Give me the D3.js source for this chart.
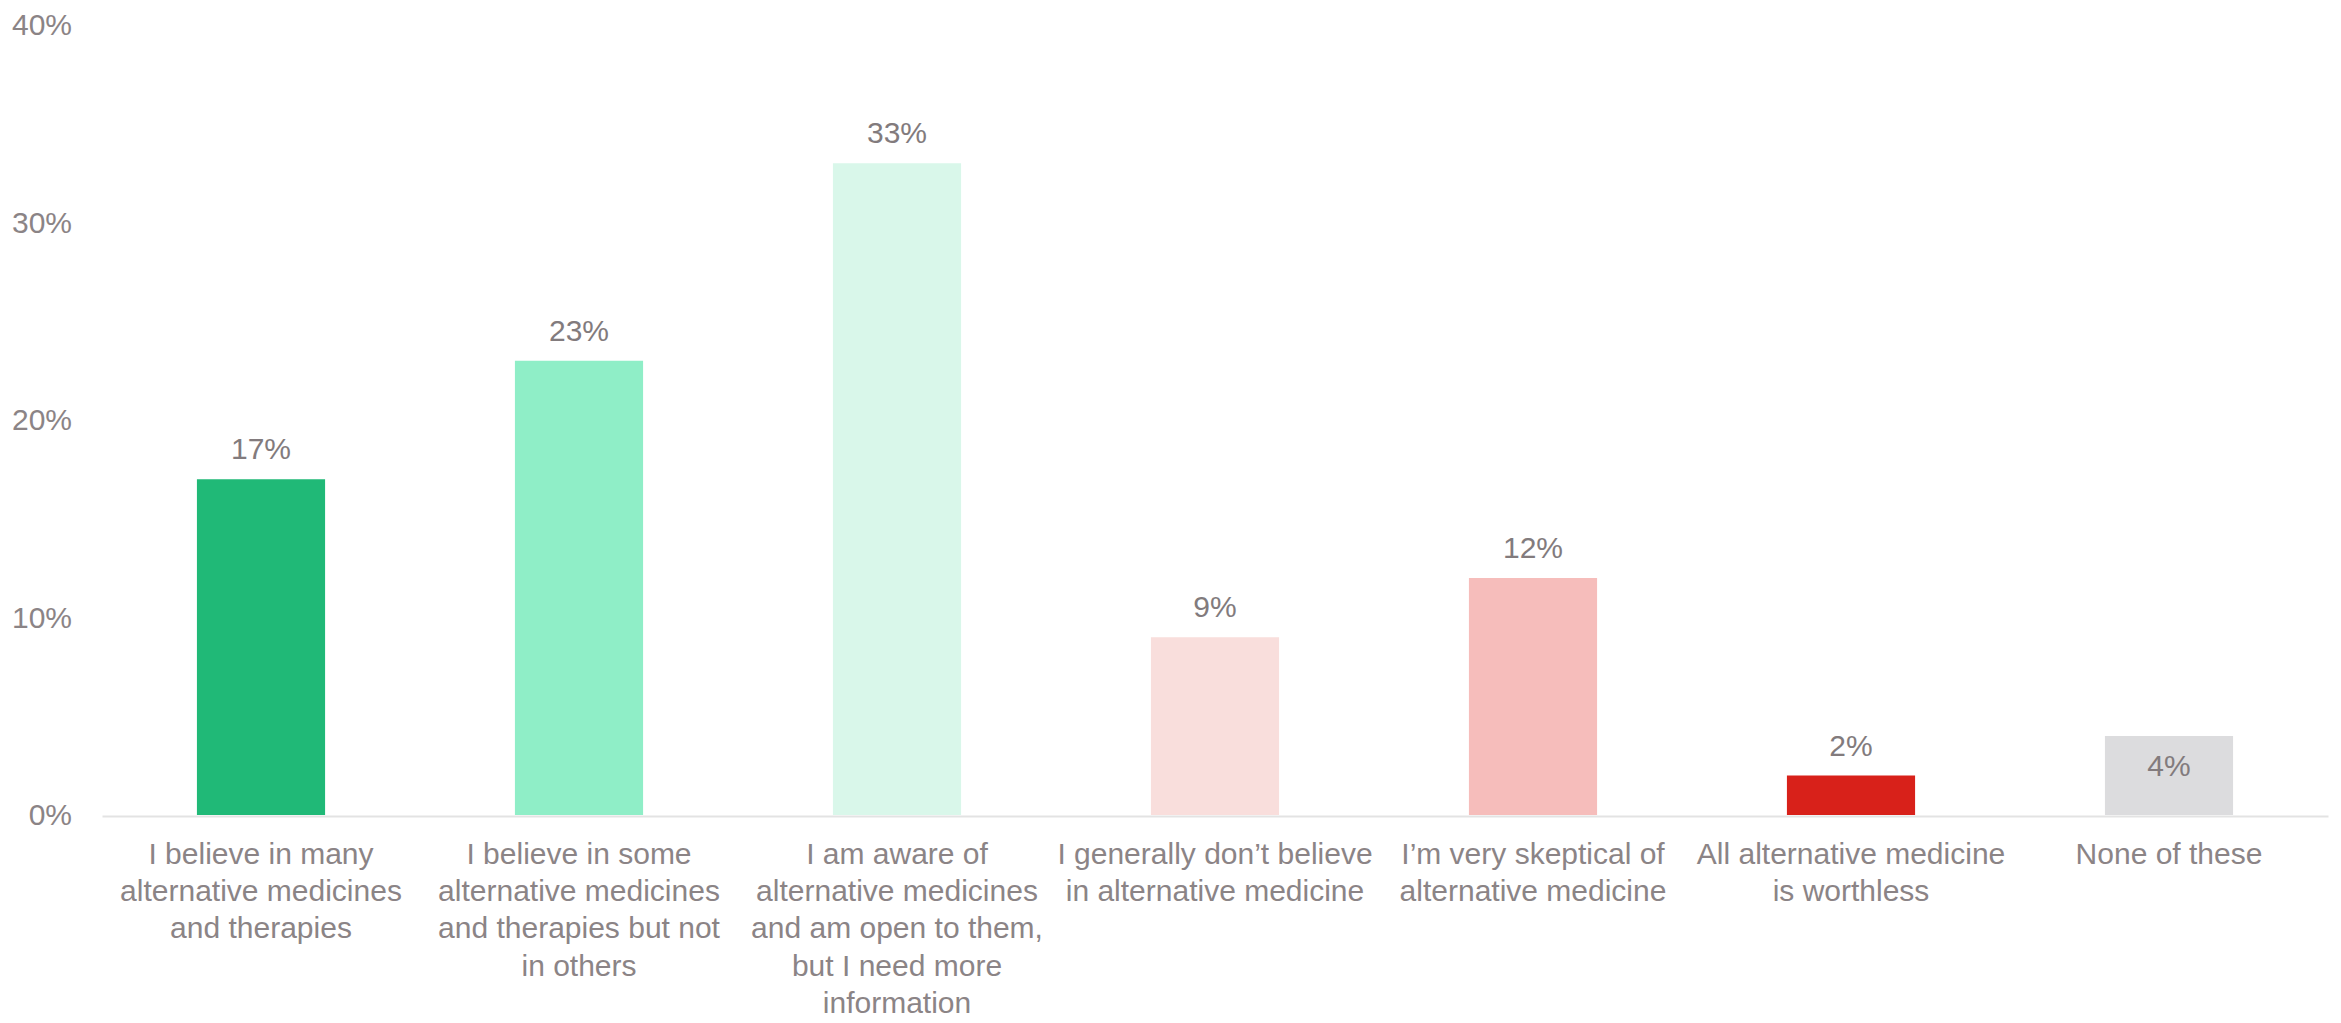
<!DOCTYPE html>
<html lang="en">
<head>
    <meta charset="UTF-8">
    <title>Views on alternative medicine</title>
    <script src="https://d3js.org/d3.v7.min.js"></script>
    <style>
        html, body { margin: 0; padding: 0; background: #ffffff; }
        body { font-family: 'Liberation Sans', Arial, sans-serif; overflow: hidden; }
        #chart { display: block; }
        .axis text { fill: #8b8486; font-size: 30px; }
        .bar-label { fill: #827b7d; font-size: 30px; text-anchor: middle; }
    </style>
</head>
<body>
<svg id="chart" width="2341" height="1023"></svg>

<script>
    // categories (one entry per line of the label under each bar)
    const categories = [
        ["I believe in many", "alternative medicines", "and therapies"],
        ["I believe in some", "alternative medicines", "and therapies but not", "in others"],
        ["I am aware of", "alternative medicines", "and am open to them,", "but I need more", "information"],
        ["I generally don\u2019t believe", "in alternative medicine"],
        ["I\u2019m very skeptical of", "alternative medicine"],
        ["All alternative medicine", "is worthless"],
        ["None of these"]
    ];
    const shares = [17, 23, 33, 9, 12, 2, 4];
    const barColors = ["#20b977", "#8feec7", "#d9f7ea", "#f9dedc", "#f6bdbb", "#d8211a", "#dcdcde"];
    const yTicks = [0, 10, 20, 30, 40];
    // the non-answer bar carries its label inside
    const labelInside = ["None of these"];

    const svg = d3.select("#chart");
    const margin = {top: 25, right: 13, bottom: 208, left: 102};
    const W = 2341, H = 1023;

    const keys = categories.map(c => c.join(" "));

    const x = d3.scaleBand()
        .domain(keys)
        .range([margin.left, W - margin.right])
        .paddingInner(0.597)
        .paddingOuter(0.2985);

    const y = d3.scaleLinear()
        .domain([0, 40])
        .range([H - margin.bottom, margin.top]);

    // y axis: labels only
    const yAxis = svg.append("g")
        .attr("class", "axis")
        .attr("transform", `translate(${margin.left - 30},0)`)
        .call(d3.axisLeft(y).tickValues(yTicks).tickSize(0).tickPadding(0).tickFormat(d => d + "%"));
    yAxis.select(".domain").remove();
    yAxis.selectAll("text").attr("font-family", null).attr("font-size", null);

    // bars
    svg.append("g").selectAll("rect")
        .data(shares)
        .join("rect")
        .attr("x", (d, i) => x(keys[i]))
        .attr("y", d => y(d))
        .attr("width", x.bandwidth())
        .attr("height", d => y(0) - y(d))
        .attr("fill", (d, i) => barColors[i]);

    // value labels
    svg.append("g").selectAll("text")
        .data(shares)
        .join("text")
        .attr("class", "bar-label")
        .attr("x", (d, i) => x(keys[i]) + x.bandwidth() / 2)
        .attr("y", (d, i) => labelInside.includes(keys[i]) ? y(d) + 40 : y(d) - 20)
        .text(d => d + "%");

    // baseline + category labels
    const xAxis = svg.append("g")
        .attr("class", "axis")
        .attr("transform", `translate(0,${y(0) + 1})`)
        .call(d3.axisBottom(x).tickSize(0).tickFormat(""));
    xAxis.select(".domain")
        .attr("stroke", "#e3e3e3")
        .attr("stroke-width", 2);

    xAxis.selectAll(".tick text").remove();
    xAxis.selectAll(".tick").each(function(key, i) {
        const t = d3.select(this).append("text")
            .attr("text-anchor", "middle")
            .attr("y", 48);
        categories[i].forEach((line, j) => {
            t.append("tspan")
                .attr("x", 0)
                .attr("dy", j === 0 ? 0 : 37.2)
                .text(line);
        });
    });
</script>
</body>
</html>
